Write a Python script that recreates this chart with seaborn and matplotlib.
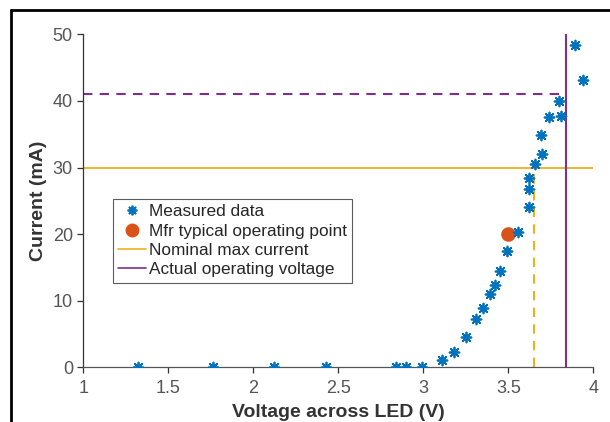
import matplotlib
matplotlib.use("Agg")
import matplotlib.pyplot as plt
from matplotlib.lines import Line2D
import seaborn as sns
import pandas as pd

# Measured data
voltage = [1.32, 1.76, 2.12, 2.43, 2.84, 2.90, 2.99, 3.11, 3.18, 3.25, 3.31, 3.35,
           3.39, 3.42, 3.45, 3.49, 3.56, 3.62, 3.62, 3.62, 3.66, 3.70, 3.69, 3.74,
           3.81, 3.80, 3.89, 3.94]
current = [0, 0, 0, 0, 0, 0, 0.1, 1.1, 2.25, 4.6, 7.3, 8.9,
           11.0, 12.4, 14.4, 17.4, 20.3, 24.1, 26.8, 28.5, 30.5, 32.0, 34.9, 37.6,
           37.8, 40.0, 48.4, 43.2]

mfr_v = [3.5]
mfr_i = [20.0]

nominal_max_current = 30
actual_voltage = 3.84
actual_current = 41
nominal_voltage = 3.65

xticks = [1, 1.5, 2, 2.5, 3, 3.5, 4]
xticklabels = ["1", "1.5", "2", "2.5", "3", "3.5", "4"]
yticks = [0, 10, 20, 30, 40, 50]

BLUE = "#0072BD"
ORANGE = "#D95319"
YELLOW = "#EDB120"
PURPLE = "#7E2F8E"

sns.set_style("ticks")
plt.rcParams['font.family'] = ['Liberation Sans', 'DejaVu Sans']

fig = plt.figure(figsize=(6.1, 4.22), dpi=100)
ax = fig.add_axes([0.1366, 0.1296, 0.836, 0.789])

df = pd.DataFrame({"v": voltage, "i": current})
dfm = pd.DataFrame({"v": mfr_v, "i": mfr_i})

# reference lines
ax.plot([1, 4], [nominal_max_current, nominal_max_current], color=YELLOW, lw=1.3, zorder=2)
ax.plot([actual_voltage, actual_voltage], [0, 50], color=PURPLE, lw=1.5, zorder=2)
ax.plot([1, actual_voltage], [actual_current, actual_current], color=PURPLE, lw=1.5,
        ls=(0, (4.5, 3.5)), zorder=2)
ax.plot([nominal_voltage, nominal_voltage], [0, nominal_max_current], color=YELLOW, lw=1.5,
        ls=(0, (4.5, 3.5)), zorder=2)

sns.scatterplot(data=df, x="v", y="i", ax=ax, marker=(8, 2, 0), s=50,
                color=BLUE, linewidth=1.3, edgecolor=BLUE, zorder=4, legend=False)
sns.scatterplot(data=dfm, x="v", y="i", ax=ax, marker="o", s=110,
                color=ORANGE, edgecolor=ORANGE, linewidth=0, zorder=3, legend=False)

ax.set_xlim(1, 4)
ax.set_ylim(0, 50)
ax.set_xticks(xticks)
ax.set_xticklabels(xticklabels)
ax.set_yticks(yticks)
ax.tick_params(axis='both', labelsize=13, colors='#333333', length=4, width=0.9,
               direction='out', labelcolor='#555555')
ax.tick_params(axis='x', pad=5)
ax.set_xlabel("Voltage across LED (V)", fontsize=14, fontweight='bold', color='#333333', labelpad=5)
ax.set_ylabel("Current (mA)", fontsize=14, fontweight='bold', color='#333333', labelpad=4)
sns.despine(ax=ax, top=True, right=True)
ax.spines['left'].set_color('#333333')
ax.spines['bottom'].set_color('#555555')
ax.spines['left'].set_linewidth(0.9)
ax.spines['bottom'].set_linewidth(0.9)

handles = [
    Line2D([], [], marker=(8, 2, 0), color=BLUE, ls='none', markersize=7, markeredgewidth=1.3),
    Line2D([], [], marker='o', color=ORANGE, ls='none', markersize=9),
    Line2D([], [], color=YELLOW, lw=1.2),
    Line2D([], [], color=PURPLE, lw=1.2),
]
labels = ["Measured data", "Mfr typical operating point", "Nominal max current",
          "Actual operating voltage"]
leg = ax.legend(handles, labels, loc='upper left', bbox_to_anchor=(0.058, 0.505),
                frameon=True, fancybox=False, fontsize=12.4, handlelength=1.6,
                handletextpad=0.2, borderpad=0.3, labelspacing=0.25, borderaxespad=0)
leg.get_frame().set_edgecolor('#333333')
leg.get_frame().set_linewidth(0.8)

# figure frame (top and left border)
fig.add_artist(Line2D([11 / 610, 11 / 610], [0, 1 - 10 / 422], transform=fig.transFigure,
                      color='black', lw=2))
fig.add_artist(Line2D([11 / 610, 1], [1 - 10 / 422, 1 - 10 / 422], transform=fig.transFigure,
                      color='black', lw=2))

fig.savefig("out.png", dpi=100)
